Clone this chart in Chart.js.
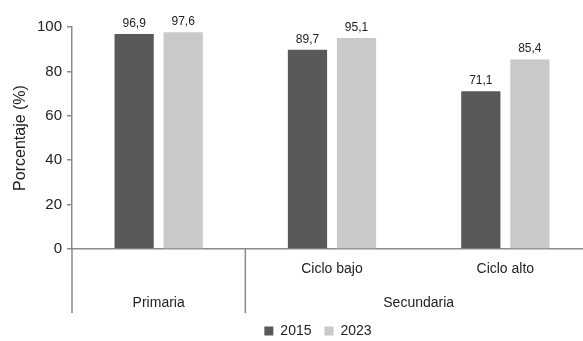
<!DOCTYPE html>
<html>
<head>
<meta charset="utf-8">
<script src="https://cdn.jsdelivr.net/npm/chart.js@4.4.0/dist/chart.umd.min.js"></script>
<style>
  html, body { margin: 0; padding: 0; background: #fff; overflow: hidden; }
  #wrap { position: absolute; left: 0; top: 0; width: 592px; height: 348px; }
</style>
</head>
<body>
<div id="wrap"><canvas id="chart"></canvas></div>
<script>
const categories = ["Primaria", "Ciclo bajo", "Ciclo alto"];
const groupLabels = ["Primaria", "Secundaria"];
const groupOf = [0, 1, 1];
const series2015 = [96.9, 89.7, 71.1];
const series2023 = [97.6, 95.1, 85.4];
const seriesNames = ["2015", "2023"];
const yTicks = [0, 20, 40, 60, 80, 100];

const FONT = "'Liberation Sans', Arial, sans-serif";
const AXIS = "#8a8a8a";
const TEXT = "#222";

// labels above bars, group row under the x axis, separators
const extrasPlugin = {
  id: "extras",
  afterLayout(chart) {
    // legend sits a bit right of the canvas centre in the original
    chart.legend.left += 22;
    chart.legend.right += 22;
  },
  afterDatasetsDraw(chart) {
    const ctx = chart.ctx;
    ctx.save();
    ctx.font = "12px " + FONT;
    ctx.fillStyle = TEXT;
    ctx.textAlign = "center";
    ctx.textBaseline = "alphabetic";
    chart.data.datasets.forEach((ds, di) => {
      chart.getDatasetMeta(di).data.forEach((bar, i) => {
        ctx.fillText(ds.data[i].toFixed(1).replace(".", ","), bar.x, bar.y - 7);
      });
    });
    ctx.restore();
  },
  afterDraw(chart) {
    const ctx = chart.ctx;
    const x = chart.scales.x;
    const area = chart.chartArea;
    const half = (x.getPixelForValue(1) - x.getPixelForValue(0)) / 2;
    const bottom = area.bottom + 64;

    ctx.save();
    ctx.strokeStyle = AXIS;
    ctx.lineWidth = 1.5;
    ctx.beginPath();
    ctx.moveTo(area.left, area.bottom);
    ctx.lineTo(area.left, bottom);
    for (let i = 1; i < categories.length; i++) {
      if (groupOf[i] !== groupOf[i - 1]) {
        const px = x.getPixelForValue(i) - half;
        ctx.moveTo(px, area.bottom);
        ctx.lineTo(px, bottom);
      }
    }
    ctx.stroke();

    ctx.font = "14px " + FONT;
    ctx.fillStyle = TEXT;
    ctx.textAlign = "center";
    ctx.textBaseline = "middle";
    groupLabels.forEach((label, g) => {
      const idx = groupOf.map((v, i) => (v === g ? i : -1)).filter((i) => i >= 0);
      const x0 = x.getPixelForValue(idx[0]) - half;
      const x1 = x.getPixelForValue(idx[idx.length - 1]) + half;
      ctx.fillText(label, (x0 + x1) / 2, area.bottom + 54);
    });
    ctx.restore();
  },
};

new Chart(document.getElementById("chart"), {
  type: "bar",
  data: {
    labels: categories,
    datasets: [
      {
        label: seriesNames[0],
        data: series2015,
        backgroundColor: "#595959",
        categoryPercentage: 0.566,
        barPercentage: 0.8,
      },
      {
        label: seriesNames[1],
        data: series2023,
        backgroundColor: "#c9c9c9",
        categoryPercentage: 0.566,
        barPercentage: 0.8,
      },
    ],
  },
  options: {
    responsive: true,
    maintainAspectRatio: false,
    animation: false,
    devicePixelRatio: 1,
    layout: { padding: { top: 27, left: 0, right: 0, bottom: 0 } },
    plugins: {
      legend: {
        position: "bottom",
        labels: {
          boxWidth: 9,
          boxHeight: 9,
          padding: 13,
          color: TEXT,
          font: { family: FONT, size: 14 },
        },
      },
      tooltip: { enabled: false },
    },
    scales: {
      x: {
        offset: true,
        grid: { display: false },
        border: { display: true, color: AXIS, width: 1.5 },
        ticks: {
          color: TEXT,
          padding: 4,
          font: { family: FONT, size: 14 },
          callback: function (value, i) {
            // single-member groups show their name only in the group row
            const n = groupOf.filter((g) => g === groupOf[i]).length;
            return n > 1 ? categories[i] : "";
          },
        },
        afterFit: function (scale) {
          scale.height = 62;
        },
      },
      y: {
        min: 0,
        max: 100,
        grid: { drawOnChartArea: false, drawTicks: true, tickLength: 5, color: AXIS, lineWidth: 1.5 },
        border: { display: true, color: AXIS, width: 1.5 },
        ticks: { color: TEXT, padding: 5, font: { family: FONT, size: 15 } },
        afterBuildTicks: function (scale) {
          scale.ticks = yTicks.map((v) => ({ value: v }));
        },
        afterFit: function (scale) {
          scale.width = 72;
        },
        title: {
          display: true,
          text: "Porcentaje (%)",
          color: TEXT,
          padding: { top: 11, bottom: 0 },
          font: { family: FONT, size: 16 },
        },
      },
    },
  },
  plugins: [extrasPlugin],
});
</script>
</body>
</html>
